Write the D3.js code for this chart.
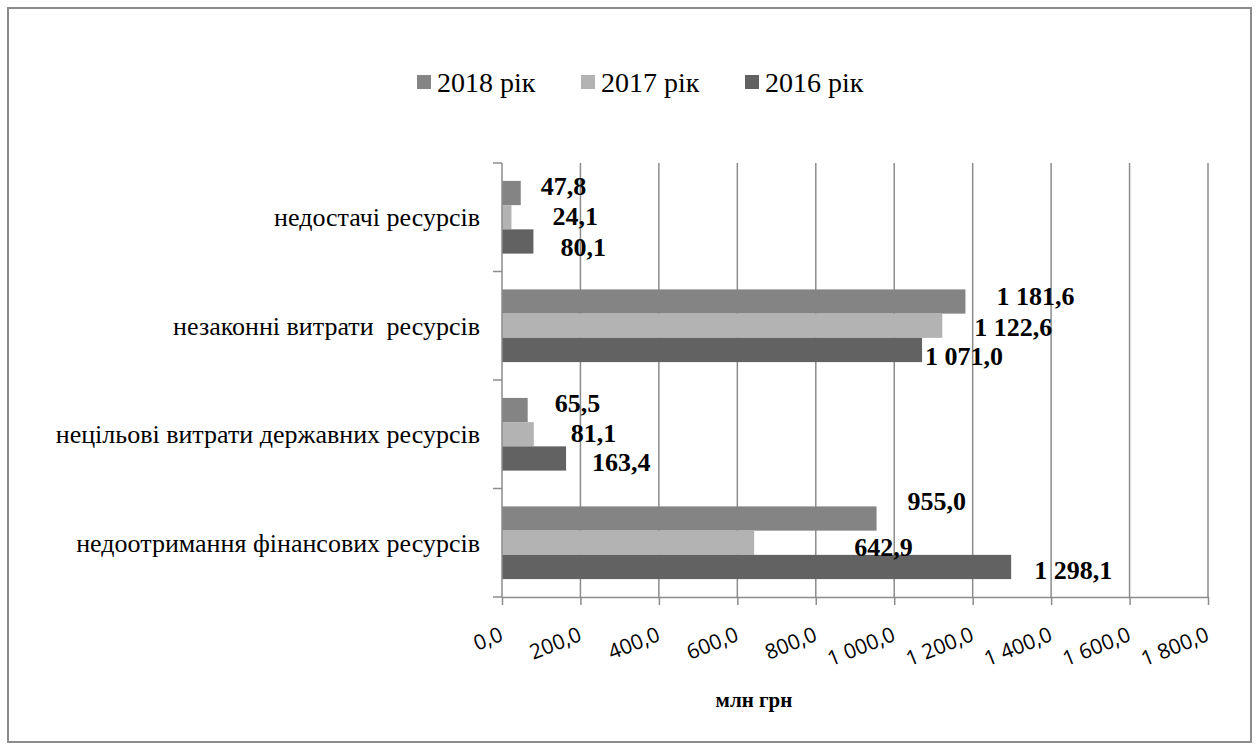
<!DOCTYPE html>
<html>
<head>
<meta charset="utf-8">
<script src="https://cdn.jsdelivr.net/npm/d3@7"></script>
<style>
  body { margin: 0; background: #fff; }
  .serif { font-family: 'Liberation Serif', 'Times New Roman', Times, Tinos, 'Noto Serif', 'DejaVu Serif', FreeSerif, serif; }
  .sans { font-family: 'Open Sans', 'Liberation Sans', sans-serif; }
</style>
</head>
<body>
<div class="container"></div>
<script>
var categories = ['недостачі ресурсів', 'незаконні витрати  ресурсів',
                  'нецільові витрати державних ресурсів', 'недоотримання фінансових ресурсів'];
var seriesNames = ['2018 рік', '2017 рік', '2016 рік'];
var values2018 = [47.8, 1181.6, 65.5, 955.0];
var values2017 = [24.1, 1122.6, 81.1, 642.9];
var values2016 = [80.1, 1071.0, 163.4, 1298.1];
var xTicks = [0, 200, 400, 600, 800, 1000, 1200, 1400, 1600, 1800];
var axisTitle = 'млн грн';

// hand-moved label offsets (dx from bar end, dy from bar centre), per category then series
var labelShift = [
  [[20, -7], [41, -1], [27, 5]],
  [[31, -6], [32, 1], [3, 6]],
  [[27, -7], [37, -1], [26, 3]],
  [[31, -18], [100, 4], [23, 3]]
];

var loadChart = function(){
    var width = 1259, height = 751;
    var colors = ['#848484', '#b3b3b3', '#626262'];
    var series = [values2018, values2017, values2016];

    var svg = d3.select('.container')
                .append('svg')
                .attr('width', width)
                .attr('height', height);

    svg.append('rect')
        .attr('x', 8).attr('y', 8)
        .attr('width', 1243).attr('height', 734)
        .attr('fill', '#fff')
        .attr('stroke', '#8c8c8c')
        .attr('stroke-width', 2);

    var x = d3.scaleLinear().domain([0, 1800]).range([502, 1208]);
    var y = d3.scaleBand().domain(categories).range([163, 597])
              .paddingInner(0.33).paddingOuter(0.165);
    var ySub = d3.scaleBand().domain(seriesNames).range([0, y.bandwidth()]);

    // gridlines
    svg.selectAll('.grid')
        .data(xTicks.slice(1))
        .enter()
        .append('line')
        .attr('x1', function(d){ return x(d); })
        .attr('x2', function(d){ return x(d); })
        .attr('y1', 163)
        .attr('y2', 597)
        .attr('stroke', '#8c8c8c')
        .attr('stroke-width', 1.5);

    // bars
    categories.forEach(function(c, i){
        seriesNames.forEach(function(s, j){
            svg.append('rect')
                .attr('x', x(0))
                .attr('y', y(c) + ySub(s))
                .attr('width', x(series[j][i]) - x(0))
                .attr('height', ySub.bandwidth())
                .attr('fill', colors[j]);
        });
    });

    // left axis
    var step = y.step();
    svg.append('line')
        .attr('x1', x(0)).attr('x2', x(0))
        .attr('y1', 163).attr('y2', 597)
        .attr('stroke', '#8c8c8c').attr('stroke-width', 1.5);
    d3.range(categories.length + 1).forEach(function(k){
        svg.append('line')
            .attr('x1', x(0) - 9).attr('x2', x(0))
            .attr('y1', 163 + k * step).attr('y2', 163 + k * step)
            .attr('stroke', '#8c8c8c').attr('stroke-width', 1.5);
    });
    svg.selectAll('.cat')
        .data(categories)
        .enter()
        .append('text')
        .attr('class', 'serif')
        .attr('x', 480)
        .attr('y', function(d){ return y(d) + y.bandwidth() / 2; })
        .attr('dy', '0.35em')
        .attr('text-anchor', 'end')
        .style('font-size', '26px')
        .style('white-space', 'pre')
        .text(function(d){ return d; });

    // bottom axis
    var fmt = function(d){
        var s = d3.format(',.1f')(d);
        return s.replace(/,/g, ' ').replace('.', ',');
    };
    var xAxis = svg.append('g')
        .attr('transform', 'translate(0,597)')
        .call(d3.axisBottom(x).tickValues(xTicks).tickSize(8).tickSizeOuter(0).tickFormat(fmt));
    xAxis.select('.domain').attr('stroke', '#8c8c8c').attr('stroke-width', 1.5);
    xAxis.selectAll('.tick line').attr('stroke', '#8c8c8c').attr('stroke-width', 1.5);
    xAxis.selectAll('.tick text')
        .attr('class', 'sans')
        .attr('text-anchor', 'end')
        .attr('y', 0)
        .attr('dy', 0)
        .attr('transform', 'translate(2,43) rotate(-22)')
        .attr('fill', '#000')
        .style('font-size', '21px');

    svg.append('text')
        .attr('class', 'serif')
        .attr('x', 754).attr('y', 707)
        .attr('text-anchor', 'middle')
        .style('font-size', '21px')
        .style('font-weight', 'bold')
        .text(axisTitle);

    // data labels
    categories.forEach(function(c, i){
        seriesNames.forEach(function(s, j){
            var v = series[j][i];
            svg.append('text')
                .attr('class', 'serif')
                .attr('x', x(v) + labelShift[i][j][0])
                .attr('y', y(c) + ySub(s) + ySub.bandwidth() / 2 + labelShift[i][j][1])
                .attr('dy', '0.35em')
                .style('font-size', '26px')
                .style('font-weight', 'bold')
                .text(fmt(v));
        });
    });

    // legend
    var legX = [417, 581, 745];
    seriesNames.forEach(function(s, j){
        svg.append('rect')
            .attr('x', legX[j]).attr('y', 75)
            .attr('width', 14).attr('height', 14)
            .attr('fill', colors[j]);
        svg.append('text')
            .attr('class', 'serif')
            .attr('x', legX[j] + 20).attr('y', 82)
            .attr('dy', '0.35em')
            .style('font-size', '28px')
            .text(s);
    });
};
window.onload = loadChart;
</script>
</body>
</html>
